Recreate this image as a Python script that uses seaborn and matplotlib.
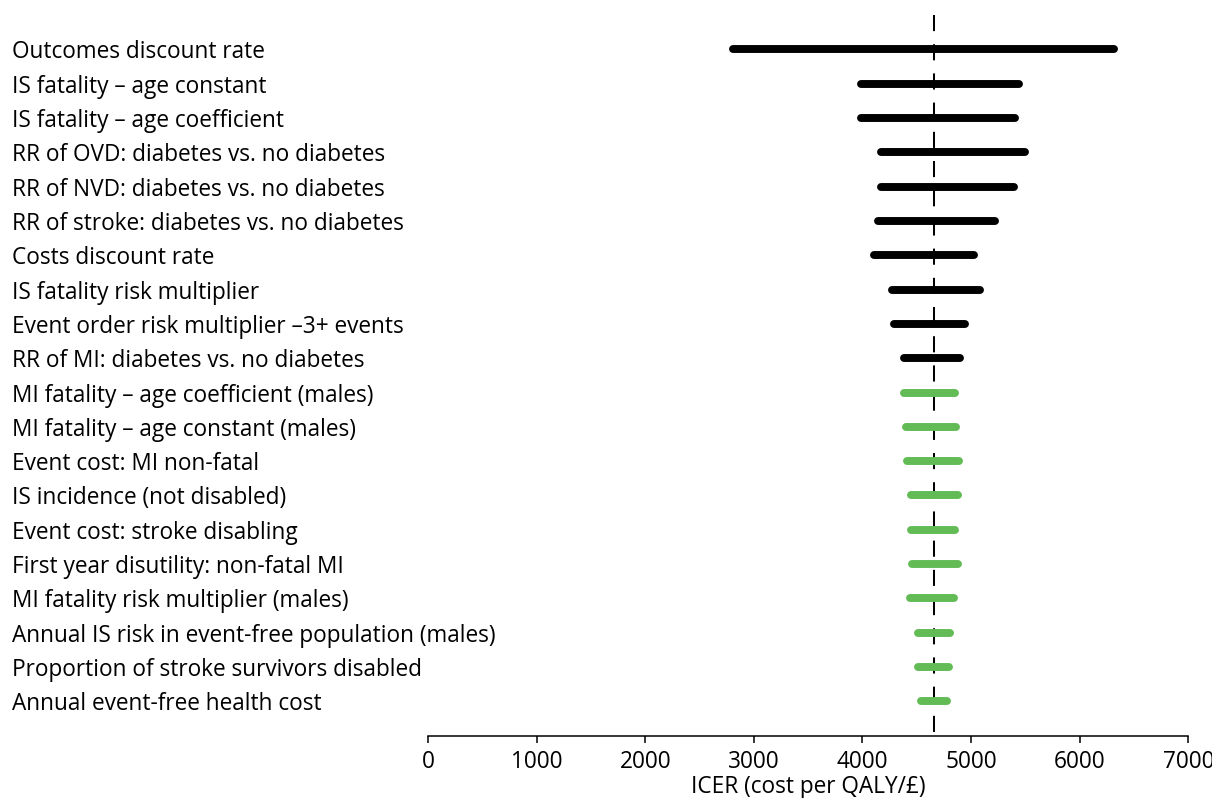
import matplotlib
matplotlib.use("Agg")
import matplotlib.pyplot as plt
import pandas as pd
import seaborn as sns

# One-way sensitivity analysis: ICER range for each varied parameter
parameters = [
    "Outcomes discount rate",
    "IS fatality \u2013 age constant",
    "IS fatality \u2013 age coefficient",
    "RR of OVD: diabetes vs. no diabetes",
    "RR of NVD: diabetes vs. no diabetes",
    "RR of stroke: diabetes vs. no diabetes",
    "Costs discount rate",
    "IS fatality risk multiplier",
    "Event order risk multiplier \u20133+ events",
    "RR of MI: diabetes vs. no diabetes",
    "MI fatality \u2013 age coefficient (males)",
    "MI fatality \u2013 age constant (males)",
    "Event cost: MI non-fatal",
    "IS incidence (not disabled)",
    "Event cost: stroke disabling",
    "First year disutility: non-fatal MI",
    "MI fatality risk multiplier (males)",
    "Annual IS risk in event-free population (males)",
    "Proportion of stroke survivors disabled",
    "Annual event-free health cost",
]
icer_low = [2810, 3985, 3985, 4170, 4170, 4145, 4105, 4275, 4290, 4385,
            4380, 4400, 4410, 4450, 4450, 4455, 4440, 4510, 4510, 4535]
icer_high = [6315, 5445, 5405, 5495, 5395, 5220, 5030, 5085, 4945, 4900,
             4855, 4860, 4890, 4875, 4850, 4875, 4840, 4810, 4795, 4775]
groups = ["major"] * 10 + ["minor"] * 10
base_case_icer = 4655
x_ticks = [0, 1000, 2000, 3000, 4000, 5000, 6000, 7000]
group_colors = {"major": "#000000", "minor": "#62bb55"}

rows = []
for pos, (name, lo, hi, grp) in enumerate(zip(parameters, icer_low, icer_high, groups)):
    rows.append({"parameter": name, "position": pos, "icer": lo, "group": grp})
    rows.append({"parameter": name, "position": pos, "icer": hi, "group": grp})
ranges = pd.DataFrame(rows)

sns.set_theme(style="white")
plt.rcParams["font.family"] = ["Open Sans", "DejaVu Sans"]

fig = plt.figure(figsize=(12.12, 7.98), dpi=100)
ax = fig.add_axes([0.35314, 0.07807, 0.62731, 0.90313])

ax.vlines(base_case_icer, -1, 20, colors="black", linewidth=1.45,
          linestyles=[(0, (8, 6.5))], zorder=1)

sns.lineplot(data=ranges, x="icer", y="position", units="parameter",
             estimator=None, hue="group", palette=group_colors, sort=False,
             linewidth=5.7, solid_capstyle="round", legend=False, ax=ax,
             zorder=3)

ax.set_xlim(0, 7000)
ax.set_ylim(20, -1)
ax.set_xticks(x_ticks)
ax.set_xticklabels([str(t) for t in x_ticks], fontsize=16.3, color="black")
ax.set_yticks(range(len(parameters)))
ax.set_yticklabels(parameters, fontsize=16.3, color="black")
for lbl in ax.get_yticklabels():
    lbl.set_horizontalalignment("left")
ax.tick_params(axis="y", length=0, pad=299.5)
ax.tick_params(axis="x", direction="out", length=5, width=1.1, color="black",
               pad=5, bottom=True)

ax.set_xlabel("ICER (cost per QALY/\u00a3)", fontsize=16.3, color="black", labelpad=1)
ax.set_ylabel("")

for side in ("left", "top", "right"):
    ax.spines[side].set_visible(False)
ax.spines["bottom"].set_color("black")
ax.spines["bottom"].set_linewidth(1.1)
ax.grid(False)

fig.savefig("out.png", dpi=100)
